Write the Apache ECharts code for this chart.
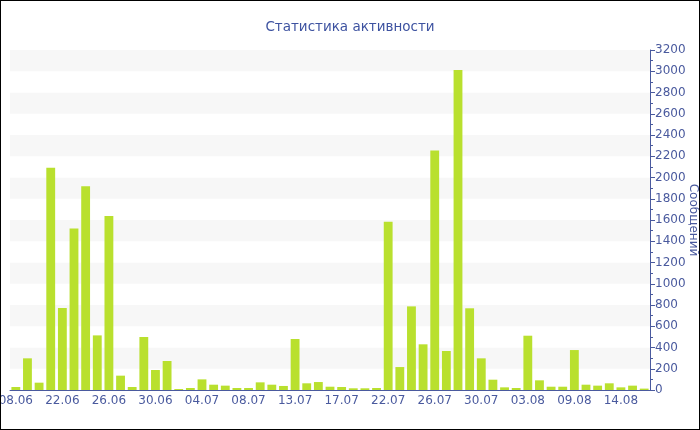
<!DOCTYPE html>
<html>
<head>
<meta charset="utf-8">
<script src="https://cdn.jsdelivr.net/npm/echarts@6/dist/echarts.min.js"></script>
<style>
html,body{margin:0;padding:0;background:#fff;}
#c{width:700px;height:430px;box-sizing:border-box;border:1px solid #000;}
</style>
</head>
<body>
<div id="c"></div>
<script>
var titleText = 'Статистика активности';
var yName = 'Сообщений';
var dates = [
  '08.06','15.06','19.06','21.06','22.06','23.06','24.06','25.06','26.06','27.06',
  '28.06','29.06','30.06','01.07','02.07','03.07','04.07','05.07','06.07','07.07',
  '08.07','09.07','10.07','12.07','13.07','14.07','15.07','16.07','17.07','18.07',
  '19.07','21.07','22.07','23.07','24.07','25.07','26.07','27.07','28.07','29.07',
  '30.07','31.07','01.08','02.08','03.08','04.08','06.08','08.08','09.08','10.08',
  '11.08','13.08','14.08','15.08','16.08'
];
var messages = [
  28, 298, 69, 2092, 772, 1521, 1917, 514, 1637, 135,
  28, 499, 188, 273, 9, 19, 100, 50, 41, 19,
  19, 72, 50, 38, 480, 63, 75, 31, 28, 16,
  16, 19, 1584, 216, 787, 430, 2253, 367, 3012, 769,
  298, 97, 25, 19, 511, 91, 31, 31, 376, 50,
  41, 63, 25, 41, 13
];
var axisColor = '#4a5a9e';
var chart = echarts.init(document.getElementById('c'));
chart.setOption({
  animation: false,
  textStyle: { fontFamily: 'DejaVu Sans' },
  title: {
    text: titleText, left: 'center', top: 14,
    textStyle: { color: '#3d52a0', fontSize: 13.5, fontWeight: 'normal', fontFamily: 'DejaVu Sans' }
  },
  grid: { left: 9, right: 49, top: 49, bottom: 39, containLabel: false, outerBoundsMode: 'none' },
  xAxis: {
    type: 'category', data: dates, boundaryGap: true,
    axisLine: { lineStyle: { color: axisColor } },
    axisTick: { alignWithLabel: true, interval: 3, length: 5, lineStyle: { color: axisColor } },
    axisLabel: { interval: 3, color: axisColor, fontSize: 12, margin: 5, fontFamily: 'DejaVu Sans' },
    splitLine: { show: false }
  },
  yAxis: {
    type: 'value', position: 'right', min: 0, max: 3200, interval: 200,
    name: yName, nameLocation: 'middle', nameRotate: -90, nameGap: 37, nameMoveOverlap: false,
    nameTextStyle: { color: axisColor, fontSize: 12, fontFamily: 'DejaVu Sans' },
    axisLine: { show: true, lineStyle: { color: axisColor } },
    axisTick: { show: true, length: 5, lineStyle: { color: axisColor } },
    minorTick: { show: true, splitNumber: 2, length: 3, lineStyle: { color: axisColor } },
    axisLabel: { color: axisColor, fontSize: 12, margin: 5, fontFamily: 'DejaVu Sans',
      formatter: function (v) { return String(v); } },
    splitLine: { show: false },
    splitArea: { show: true, areaStyle: { color: ['#ffffff', '#f7f7f7'] } }
  },
  series: [{
    type: 'bar', data: messages, barCategoryGap: '24%',
    itemStyle: { color: '#b9e02e' }
  }]
});
</script>
</body>
</html>
